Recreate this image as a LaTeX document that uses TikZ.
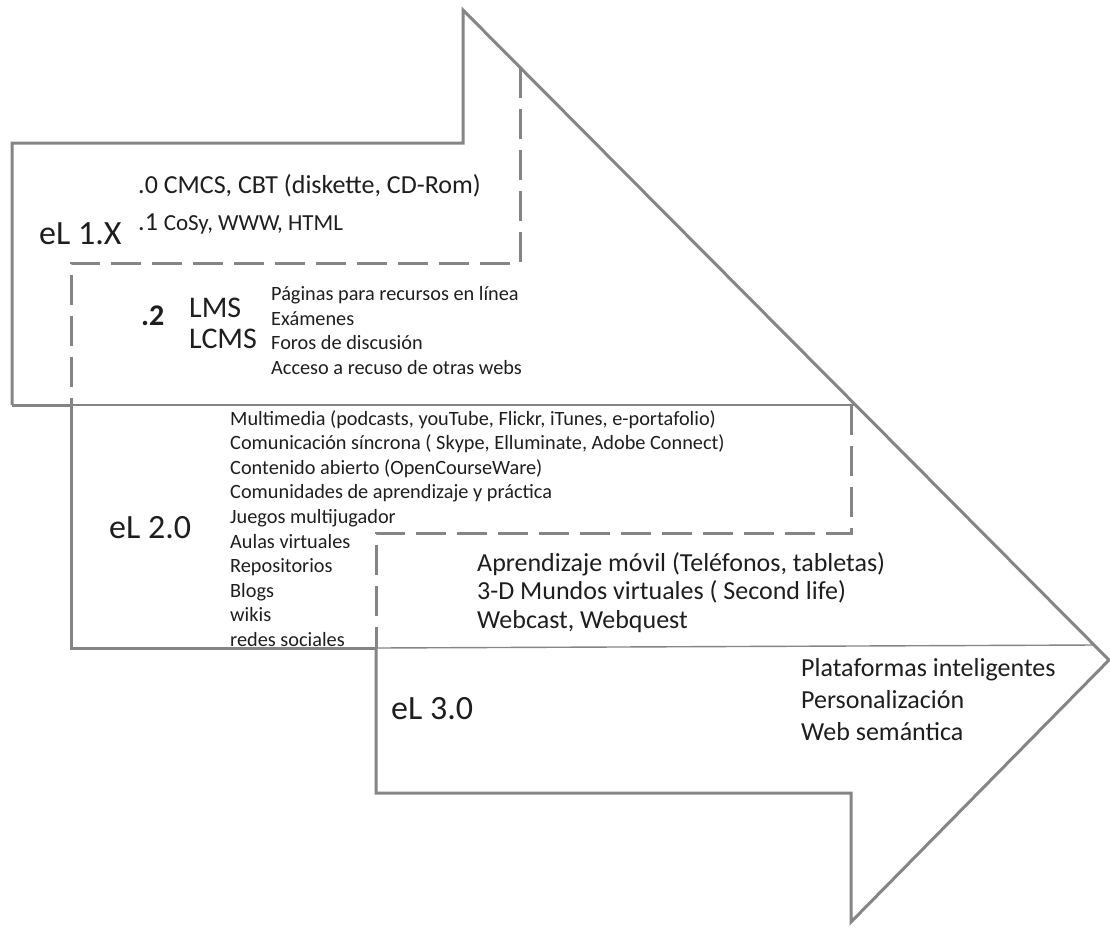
\documentclass[tikz,border=0pt]{standalone}
\usepackage{fontspec}
\setmainfont{Carlito}
\definecolor{linegray}{HTML}{858585}
\definecolor{ink}{HTML}{1E1E1E}
\newcommand{\pxsize}[1]{\fontsize{#1}{#1}\selectfont}
\begin{document}
\begin{tikzpicture}[x=1pt,y=-1pt,
  outline/.style={draw=linegray, line width=3pt, line join=miter},
  divider/.style={draw=linegray, line width=1.4pt},
  boundary/.style={draw=linegray, line width=3pt, dash pattern=on 30pt off 11pt},
  txt/.style={anchor=base west, inner sep=0pt, text=ink},
  era/.style={txt, font=\pxsize{34}},
  bigitem/.style={txt, font=\pxsize{26}},
  system/.style={txt, font=\pxsize{30}},
  smallitem/.style={txt, font=\pxsize{20.3}}]
\useasboundingbox (0,0) rectangle (1110,927);

% corner points of the stepped arrow
\coordinate (b1bl) at (12,405);
\coordinate (b1tl) at (12,143);
\coordinate (b1tr) at (463,143);
\coordinate (top)  at (463,10);
\coordinate (tip)  at (1109,660);
\coordinate (bot)  at (851,922);
\coordinate (b3br) at (851,793);
\coordinate (b3bl) at (376,793);
\coordinate (b3ml) at (376,648);
\coordinate (b2ul) at (71,405);
\coordinate (b2bl) at (71,648);
% inner sub-blocks
\coordinate (d1t) at (520,68);
\coordinate (d1c) at (520,263);
\coordinate (d1l) at (71,263);
\coordinate (t1r) at (855,405);
\coordinate (d2t) at (851,405);
\coordinate (d2c) at (851,533);
\coordinate (d2l) at (376,533);
\coordinate (t2r) at (1094,645);

% outer contour
\draw[outline] (b1bl) -- (b1tl) -- (b1tr) -- (top) -- (tip) -- (bot) -- (b3br) -- (b3bl) -- (b3ml);
\draw[outline] (b1bl) -- (b2ul);
\draw[outline] (b2ul) -- (b2bl) -- (b3ml);

% thin dividers between generations
\draw[divider] (b2ul) -- (t1r);
\draw[divider] (b3ml) -- (t2r);

% dashed sub-generation frames
\draw[boundary] (d1t) -- (d1c) -- (d1l) -- (b2ul);
\draw[boundary] (d2t) -- (d2c) -- (d2l) -- (b3ml);

% eL 1.X
\node[era] (el1) at (39,244) {eL 1.X};
\node[bigitem] (g10) at (138,193) {.0 CMCS, CBT (diskette, CD-Rom)};
\node[bigitem] (g11) at (138,230) {.1 {\pxsize{23}CoSy, WWW, HTML}};
\node[system, font=\pxsize{30}\bfseries] (g12) at (141,325) {.2};
\node[system] (lms) at (189,317) {LMS};
\node[system] (lcms) at (189,348) {LCMS};
\node[smallitem] (p1) at (271,300) {Páginas para recursos en línea};
\node[smallitem] (p2) at (271,325) {Exámenes};
\node[smallitem] (p3) at (271,349) {Foros de discusión};
\node[smallitem] (p4) at (271,374) {Acceso a recuso de otras webs};

% eL 2.0
\node[era] (el2) at (109,538) {eL 2.0};
\foreach \t [count=\i from 0] in {
  {Multimedia (podcasts, youTube, Flickr, iTunes, e-portafolio)},
  {Comunicación síncrona ( Skype, Elluminate, Adobe Connect)},
  {Contenido abierto (OpenCourseWare)},
  {Comunidades de aprendizaje y práctica},
  {Juegos multijugador},
  {Aulas virtuales},
  {Repositorios},
  {Blogs},
  {wikis},
  {redes sociales}}
  \node[smallitem] (w\i) at (230,{425+24.6*\i}) {\t};

% eL 2.x
\node[bigitem] (m1) at (477,571) {Aprendizaje móvil (Teléfonos, tabletas)};
\node[bigitem] (m2) at (477,599) {3-D Mundos virtuales ( Second life)};
\node[bigitem] (m3) at (477,628) {Webcast, Webquest};

% eL 3.0
\node[era] (el3) at (391,719) {eL 3.0};
\node[bigitem] (s1) at (801,676) {Plataformas inteligentes};
\node[bigitem] (s2) at (801,708) {Personalización};
\node[bigitem] (s3) at (801,740) {Web semántica};
\end{tikzpicture}
\end{document}
